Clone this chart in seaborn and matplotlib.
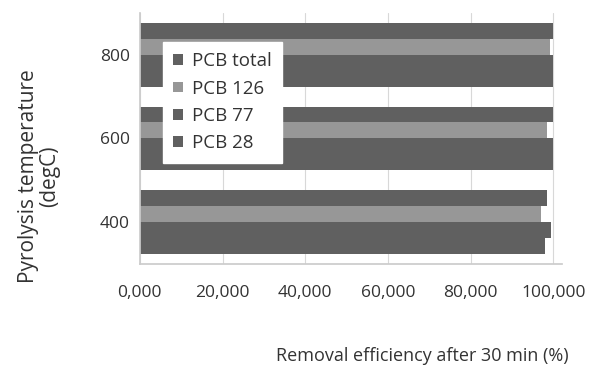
import matplotlib
matplotlib.use("Agg")
import matplotlib.pyplot as plt
import seaborn as sns
import pandas as pd
from matplotlib.ticker import FuncFormatter

temperatures = ["800", "600", "400"]
series = ["PCB total", "PCB 126", "PCB 77", "PCB 28"]
pcb_total = [99.9, 99.8, 98.5]
pcb_126 = [99.2, 98.5, 97.0]
pcb_77 = [99.9, 99.9, 99.5]
pcb_28 = [99.9, 99.9, 98.0]
x_ticks = [0, 20, 40, 60, 80, 100]

rows = []
for name, vals in zip(series, [pcb_total, pcb_126, pcb_77, pcb_28]):
    for t, v in zip(temperatures, vals):
        rows.append({"temp": t, "series": name, "value": v})
df = pd.DataFrame(rows)

sns.set_theme(style="white")
plt.rcParams['font.family'] = ['Open Sans', 'DejaVu Sans']

fig = plt.figure(figsize=(5.9, 3.69), dpi=100)
ax = fig.add_axes([0.237, 0.285, 0.715, 0.68])

palette = {"PCB total": "#606060", "PCB 126": "#979797", "PCB 77": "#606060", "PCB 28": "#606060"}
sns.barplot(data=df, y="temp", x="value", hue="series", order=temperatures,
            hue_order=series, palette=palette, orient="h", width=0.76,
            saturation=1, ax=ax, linewidth=0)

ax.set_xlim(0, 102)
ax.set_ylim(2.5, -0.5)
ax.set_xticks(x_ticks)
ax.xaxis.set_major_formatter(FuncFormatter(lambda v, p: f"{v:.3f}".replace(".", ",")))
ax.grid(axis="x", color="#d8d8d8", linewidth=0.8)
ax.set_axisbelow(True)
for s in ["top", "right"]:
    ax.spines[s].set_visible(False)
ax.spines["left"].set_color("#cccccc")
ax.spines["bottom"].set_color("#cccccc")
ax.tick_params(axis="x", length=0, labelsize=12.5, colors="#333333", pad=15)
ax.tick_params(axis="y", length=0, labelsize=12.5, colors="#333333", pad=7)

ax.set_ylabel("Pyrolysis temperature\n(degC)", fontsize=15, color="#333333", linespacing=1.0)
ax.yaxis.set_label_coords(-0.19, 0.35)
ax.set_xlabel("Removal efficiency after 30 min (%)", fontsize=13, color="#333333")
ax.xaxis.set_label_coords(0.67, -0.33)

leg = ax.legend(loc="upper left", bbox_to_anchor=(0.055, 0.884), frameon=True, fontsize=13.5,
                handlelength=0.5, handleheight=0.5, handletextpad=0.5, labelspacing=0.5,
                borderpad=0.55, borderaxespad=0, fancybox=False)
leg.get_frame().set_facecolor("white")
leg.get_frame().set_edgecolor("white")
leg.get_frame().set_alpha(1)
for t in leg.get_texts():
    t.set_color("#333333")

fig.savefig("out.png", dpi=100)
